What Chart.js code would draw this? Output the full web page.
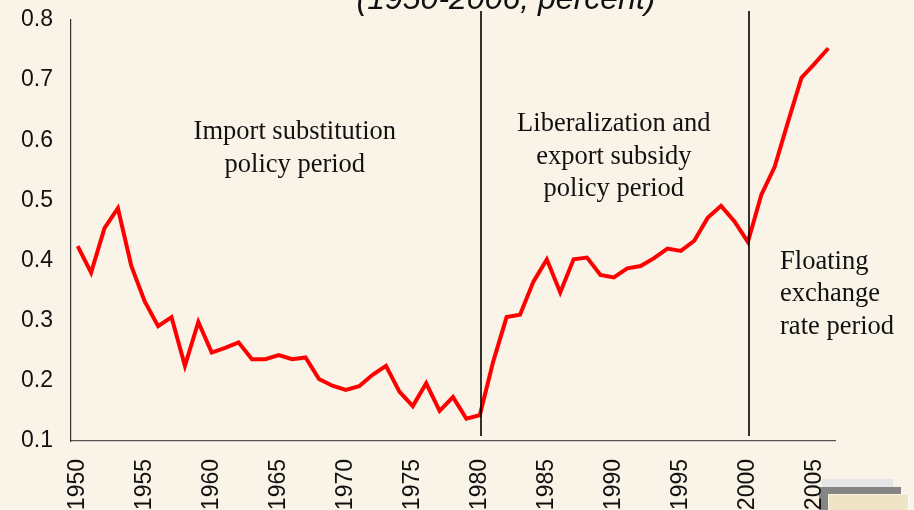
<!DOCTYPE html>
<html>
<head>
<meta charset="utf-8">
<script src="https://cdn.jsdelivr.net/npm/chart.js@4/dist/chart.umd.min.js"></script>
<style>
  html, body { margin: 0; padding: 0; background: #faf4e8; }
  #wrap { width: 914px; height: 510px; }
</style>
</head>
<body>
<div id="wrap"><canvas id="myChart" width="914" height="510"></canvas></div>
<script>
const years = [];
for (let y = 1950; y <= 2006; y++) years.push(String(y));

// ratio, 1950..2006
const ratio = [
  0.424, 0.380, 0.454, 0.487, 0.391, 0.332, 0.291, 0.306, 0.225, 0.298,
  0.247, 0.255, 0.264, 0.236, 0.236, 0.243, 0.236, 0.239, 0.203, 0.192,
  0.185, 0.191, 0.210, 0.225, 0.182, 0.158, 0.196, 0.150, 0.173, 0.137,
  0.143, 0.232, 0.306, 0.310, 0.365, 0.402, 0.347, 0.402, 0.405, 0.376,
  0.372, 0.387, 0.391, 0.404, 0.420, 0.416, 0.433, 0.471, 0.491, 0.465,
  0.431, 0.509, 0.556, 0.631, 0.704, 0.728, 0.753
];

const yTicks = [0.1, 0.2, 0.3, 0.4, 0.5, 0.6, 0.7, 0.8];
const dividers = ["1980", "2000"];
const periodLabels = [
  { year: 1966.2, y: 0.613, align: "center", lines: ["Import substitution", "policy period"] },
  { year: 1990.0, y: 0.627, align: "center", lines: ["Liberalization and", "export subsidy", "policy period"] },
  { year: 2002.4, y: 0.398, align: "left", lines: ["Floating", "exchange", "rate period"] }
];
const titleText = "(1950-2006, percent)";

const decor = {
  id: "decor",
  beforeDraw(chart) {
    const c = chart.ctx;
    c.save();
    c.fillStyle = "#faf4e8";
    c.fillRect(0, 0, chart.width, chart.height);
    // slide leftovers in the corner
    c.fillStyle = "#e6e6e6";
    c.fillRect(822, 479, 71, 9);
    c.fillStyle = "#858585";
    c.fillRect(819, 487, 82, 23);
    c.fillStyle = "#efe4c4";
    c.fillRect(828, 494, 80, 16);
    c.strokeStyle = "#ffffff";
    c.setLineDash([1, 1]);
    c.lineWidth = 1;
    c.strokeRect(828.5, 494.5, 80, 16);
    c.restore();
  },
  afterDatasetsDraw(chart) {
    const c = chart.ctx;
    const xs = chart.scales.x, ys = chart.scales.y;
    c.save();
    c.strokeStyle = "#000";
    c.lineWidth = 1.6;
    dividers.forEach(d => {
      const px = Math.round(xs.getPixelForValue(years.indexOf(d))) + 1;
      c.beginPath();
      c.moveTo(px, 11);
      c.lineTo(px, 436);
      c.stroke();
    });
    c.fillStyle = "#111";
    c.font = '26.5px "Liberation Serif", "Times New Roman", serif';
    c.textBaseline = "middle";
    periodLabels.forEach(p => {
      const px = xs.getPixelForValue(p.year - 1950);
      const py = ys.getPixelForValue(p.y);
      c.textAlign = p.align;
      p.lines.forEach((t, i) => c.fillText(t, px, py + i * 32.5));
    });
    c.font = 'italic 32px "Liberation Sans", Arial, sans-serif';
    c.textAlign = "center";
    c.textBaseline = "alphabetic";
    c.fillText(titleText, 506, 9);
    c.restore();
  }
};

const ctx = document.getElementById("myChart").getContext("2d");
const myChart = new Chart(ctx, {
  type: "line",
  data: {
    labels: years,
    datasets: [{
      data: ratio,
      borderColor: "#ff0000",
      borderWidth: 4,
      pointRadius: 0,
      tension: 0,
      fill: false
    }]
  },
  options: {
    responsive: false,
    animation: false,
    layout: { padding: { top: 20, right: 79, left: 0, bottom: 0 } },
    plugins: { legend: { display: false }, tooltip: { enabled: false } },
    scales: {
      x: {
        offset: true,
        grid: { display: false, drawTicks: false },
        border: { color: "#555", width: 1.2 },
        afterFit(s) { s.height = 69; s.paddingLeft = 0; s.paddingRight = 0; },
        ticks: {
          autoSkip: false,
          minRotation: 90,
          maxRotation: 90,
          padding: 18,
          color: "#111",
          font: { family: '"Liberation Sans", Arial, sans-serif', size: 23 },
          callback(v) {
            const l = years[v];
            return Number(l) % 5 === 0 ? l : "";
          }
        }
      },
      y: {
        min: 0.1,
        max: 0.8,
        grid: { display: false, drawTicks: false },
        border: { color: "#333", width: 1.2 },
        afterFit(s) { s.width = 71; s.paddingTop = 0; s.paddingBottom = 0; },
        afterBuildTicks(s) { s.ticks = yTicks.map(v => ({ value: v })); },
        ticks: {
          padding: 18,
          color: "#111",
          font: { family: '"Liberation Sans", Arial, sans-serif', size: 23 },
          callback(v) { return v.toFixed(1); }
        }
      }
    }
  },
  plugins: [decor]
});
</script>
</body>
</html>
